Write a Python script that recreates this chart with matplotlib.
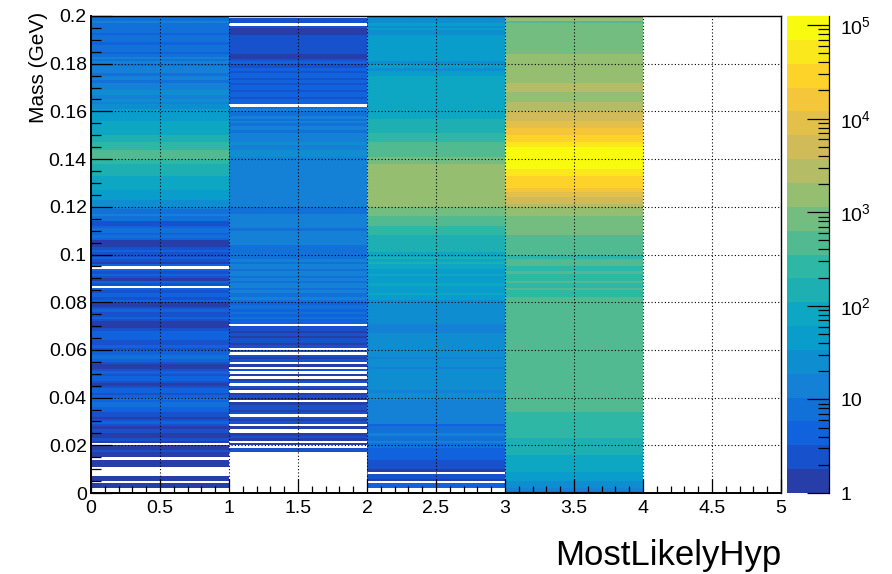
import numpy as np
import matplotlib
matplotlib.use("Agg")
import matplotlib.pyplot as plt
from matplotlib.colors import LinearSegmentedColormap, ListedColormap, LogNorm
from matplotlib.ticker import MultipleLocator, FuncFormatter, LogLocator, NullFormatter

plt.rcParams['font.family'] = ['Liberation Sans', 'DejaVu Sans']
plt.rcParams['mathtext.fontset'] = 'custom'
plt.rcParams['mathtext.rm'] = 'Liberation Sans'
plt.rcParams['mathtext.it'] = 'Liberation Sans:italic'
plt.rcParams['mathtext.bf'] = 'Liberation Sans:bold'

# ---- histogram binning ----
hyp_edges = [0, 1, 2, 3, 4]          # MostLikelyHyp bins that hold entries
hyp_range = (0, 5)
mass_range = (0.0, 0.2)
n_mass_bins = 200

# ---- bin contents, one list per hypothesis bin, mass bins from 0 upward ----
counts_hyp0 = [
    0, 0, 1, 1, 0, 1, 1, 0, 0, 0,
    0, 1, 1, 1, 0, 1, 1, 2, 1, 1,
    0, 1, 2, 1, 1, 2, 2, 1, 2, 4,
    2, 1, 2, 2, 4, 4, 7, 8, 4, 7,
    4, 2, 4, 5, 2, 1, 2, 4, 5, 2,
    4, 3, 1, 1, 2, 4, 7, 8, 5, 4,
    2, 4, 3, 2, 4, 5, 4, 4, 2, 1,
    1, 1, 2, 4, 2, 3, 4, 2, 1, 1,
    4, 2, 4, 5, 3, 4, 0, 2, 4, 1,
    2, 4, 3, 4, 0, 4, 1, 2, 4, 3,
    2, 4, 2, 1, 1, 1, 5, 7, 5, 8,
    7, 5, 3, 2, 7, 8, 12, 8, 9, 13,
    22, 25, 28, 40, 45, 50, 55, 70, 80, 85,
    90, 95, 100, 120, 140, 150, 170, 180, 230, 290,
    400, 480, 500, 420, 320, 260, 220, 180, 150, 120,
    100, 95, 90, 80, 70, 65, 55, 48, 42, 40,
    36, 28, 24, 16, 20, 15, 14, 19, 21, 15,
    13, 12, 9, 12, 13, 8, 12, 11, 12, 9,
    11, 8, 11, 8, 5, 7, 9, 8, 5, 8,
    7, 8, 5, 9, 8, 7, 8, 11, 8, 7,
]

counts_hyp1 = [
    0, 0, 0, 0, 0, 0, 0, 0, 0, 0,
    0, 0, 0, 0, 0, 0, 0, 2, 3, 0,
    1, 0, 1, 2, 1, 0, 0, 1, 0, 2,
    1, 3, 0, 2, 1, 2, 3, 1, 0, 1,
    2, 1, 0, 1, 2, 0, 3, 1, 0, 1,
    0, 2, 0, 1, 0, 2, 1, 2, 0, 3,
    0, 2, 1, 2, 3, 1, 2, 1, 2, 3,
    0, 4, 5, 7, 4, 6, 4, 8, 7, 5,
    8, 12, 9, 8, 13, 7, 12, 14, 9, 11,
    8, 12, 14, 9, 13, 12, 9, 11, 8, 9,
    7, 9, 8, 7, 12, 13, 14, 12, 15, 13,
    9, 12, 14, 13, 15, 12, 11, 9, 8, 10,
    12, 14, 13, 15, 12, 16, 14, 13, 17, 14,
    13, 15, 14, 16, 13, 14, 15, 12, 13, 14,
    15, 20, 22, 21, 16, 14, 23, 15, 13, 12,
    11, 9, 12, 11, 8, 12, 9, 13, 8, 9,
    11, 8, 0, 4, 5, 3, 4, 5, 3, 4,
    5, 3, 4, 3, 5, 4, 3, 4, 3, 3,
    4, 2, 1, 1, 2, 3, 2, 3, 2, 2,
    3, 2, 1, 1, 1, 2, 0, 2, 3, 0,
]

counts_hyp2 = [
    0, 0, 4, 5, 0, 1, 2, 3, 0, 1,
    2, 3, 2, 3, 4, 5, 4, 5, 4, 7,
    8, 12, 9, 8, 13, 7, 9, 8, 5, 12,
    14, 13, 12, 15, 13, 14, 12, 16, 13, 20,
    22, 25, 16, 24, 28, 26, 22, 30, 25, 27,
    24, 28, 17, 26, 23, 29, 16, 27, 25, 30,
    28, 26, 31, 24, 27, 25, 22, 15, 17, 14,
    16, 22, 26, 28, 24, 30, 27, 25, 29, 31,
    33, 38, 42, 65, 44, 48, 52, 70, 46, 50,
    55, 75, 48, 52, 68, 72, 115, 85, 120, 78,
    90, 130, 150, 160, 140, 170, 155, 180, 220, 260,
    300, 280, 380, 420, 450, 500, 700, 800, 900, 1000,
    1300, 1500, 1600, 1700, 1800, 1750, 1650, 1700, 1800, 1900,
    1850, 1700, 1600, 1500, 1550, 1600, 1450, 1300, 1100, 950,
    800, 600, 520, 480, 430, 400, 370, 320, 280, 230,
    210, 180, 160, 150, 130, 120, 115, 100, 95, 90,
    85, 80, 82, 78, 75, 72, 70, 75, 68, 66,
    70, 65, 68, 63, 62, 55, 50, 30, 48, 45,
    32, 52, 45, 40, 42, 38, 45, 40, 37, 42,
    39, 35, 30, 28, 40, 32, 44, 30, 27, 24,
]

counts_hyp3 = [
    9, 15, 25, 28, 30, 40, 45, 50, 55, 65,
    70, 80, 85, 90, 95, 105, 120, 140, 150, 160,
    170, 180, 190, 210, 230, 250, 270, 280, 290, 300,
    310, 320, 330, 345, 380, 400, 420, 430, 450, 460,
    470, 480, 490, 500, 500, 510, 520, 520, 530, 530,
    540, 540, 550, 560, 560, 570, 570, 580, 590, 600,
    600, 610, 600, 590, 580, 570, 560, 550, 540, 530,
    520, 500, 490, 480, 470, 450, 440, 420, 410, 390,
    380, 370, 340, 330, 320, 360, 310, 300, 370, 300,
    290, 310, 365, 300, 320, 380, 400, 390, 340, 330,
    370, 400, 420, 450, 480, 520, 560, 600, 700, 680,
    750, 800, 900, 950, 1000, 1100, 1200, 1400, 1700, 2000,
    2800, 4000, 5000, 6000, 8000, 10000, 13000, 16000, 23000, 27000,
    31000, 35000, 38000, 42000, 50000, 60000, 75000, 85000, 95000, 105000,
    125000, 118000, 105000, 90000, 75000, 65000, 50000, 38000, 30000, 23000,
    20000, 17000, 13000, 11000, 9000, 7000, 6000, 5000, 4500, 4000,
    3500, 3000, 2600, 2200, 2000, 1800, 1700, 1900, 2200, 2500,
    2400, 2100, 1900, 1800, 1700, 1600, 1500, 1450, 1400, 1350,
    1300, 1250, 1200, 1180, 1100, 1050, 1000, 950, 900, 880,
    850, 820, 800, 780, 760, 740, 720, 600, 1200, 700,
]

x_tick_labels = ['0', '0.5', '1', '1.5', '2', '2.5', '3', '3.5', '4', '4.5', '5']
z_ticks = [1, 10, 100, 1000, 10000, 100000]
z_tick_labels = ['1', '10', r'$10^{2}$', r'$10^{3}$', r'$10^{4}$', r'$10^{5}$']

# ---- "bird" palette, 20 discrete contour colours ----
bird_stops = [0.0, 0.125, 0.25, 0.375, 0.5, 0.625, 0.75, 0.875, 1.0]
bird_r = [0.2082, 0.0592, 0.0780, 0.0232, 0.1802, 0.5301, 0.8186, 0.9956, 0.9764]
bird_g = [0.1664, 0.3599, 0.5041, 0.6419, 0.7178, 0.7492, 0.7328, 0.7862, 0.9832]
bird_b = [0.5293, 0.8684, 0.8385, 0.7914, 0.6425, 0.4662, 0.3499, 0.1968, 0.0539]
bird = LinearSegmentedColormap.from_list(
    'bird', list(zip(bird_stops, zip(bird_r, bird_g, bird_b))), N=255)
n_contours = 20
level_idx = [int((i + 0.99) * 255 / n_contours) for i in range(n_contours)]
cmap = ListedColormap(bird(level_idx))
cmap.set_bad('white')

# ---- assemble the 2D histogram ----
Z = np.column_stack([counts_hyp0, counts_hyp1, counts_hyp2, counts_hyp3]).astype(float)
Z = np.ma.masked_less_equal(Z, 0)
mass_edges = np.linspace(mass_range[0], mass_range[1], n_mass_bins + 1)
norm = LogNorm(vmin=1, vmax=Z.max())

W, H = 892, 574
fig = plt.figure(figsize=(W / 100, H / 100), dpi=100)
ax = fig.add_axes([91 / W, 81 / H, 690 / W, 477 / H])
cax = fig.add_axes([787 / W, 81 / H, 42 / W, 477 / H])

mesh = ax.pcolormesh(hyp_edges, mass_edges, Z, cmap=cmap, norm=norm)
ax.set_xlim(*hyp_range)
ax.set_ylim(*mass_range)

ax.xaxis.set_minor_locator(MultipleLocator(0.1))
ax.set_xticks(np.linspace(0, 5, 11))
ax.set_xticklabels(x_tick_labels)
ax.yaxis.set_major_locator(MultipleLocator(0.02))
ax.yaxis.set_minor_locator(MultipleLocator(0.005))
ax.yaxis.set_major_formatter(FuncFormatter(lambda v, p: f'{v:g}'))

ax.tick_params(axis='x', which='major', direction='in', length=10, width=0.9,
               labelsize=14, pad=5, top=False)
ax.tick_params(axis='x', which='minor', direction='in', length=5, width=0.9, top=False)
ax.tick_params(axis='y', which='major', direction='in', length=15, width=0.9,
               labelsize=14, pad=3, right=False)
ax.tick_params(axis='y', which='minor', direction='in', length=7.5, width=0.9, right=False)

ax.set_axisbelow(False)
ax.grid(True, which='major', color='black', linestyle=(0, (1, 2)), linewidth=0.8)
for side in ['left', 'bottom']:
    ax.spines[side].set_linewidth(1.4)
for side in ['top', 'right']:
    ax.spines[side].set_linewidth(1.0)

# ---- palette axis ----
cbar = fig.colorbar(mesh, cax=cax)
cbar.outline.set_visible(False)
cax.plot([1, 1], [0, 1], transform=cax.transAxes, color='black', lw=0.9, clip_on=False)
cbar.set_ticks(z_ticks)
cbar.set_ticklabels(z_tick_labels)
cax.yaxis.set_minor_locator(LogLocator(base=10, subs=np.arange(2, 10)))
cax.yaxis.set_minor_formatter(NullFormatter())
cax.tick_params(which='major', direction='in', length=16, width=0.9, labelsize=14, pad=8)
cax.tick_params(which='minor', direction='in', length=8, width=0.9)

# ---- axis titles ----
fig.text(781 / W, (H - 565) / H, 'MostLikelyHyp', ha='right', va='baseline', fontsize=25)
fig.text(38 / W, (H - 12) / H, 'Mass (GeV)', rotation=90, ha='center', va='top', fontsize=15)

fig.savefig('out.png', dpi=100)
